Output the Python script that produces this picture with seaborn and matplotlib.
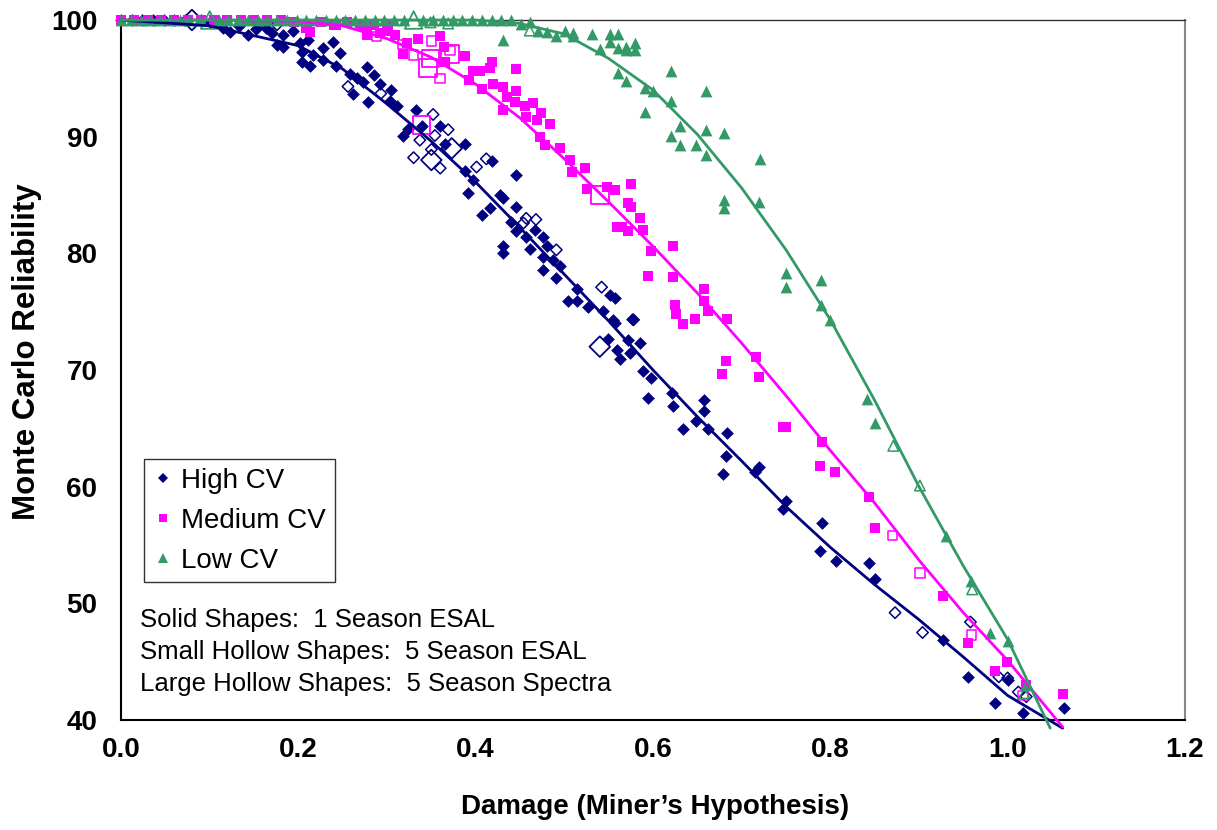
import matplotlib
matplotlib.use("Agg")
import matplotlib.pyplot as plt
from matplotlib.lines import Line2D
from matplotlib.ticker import FormatStrFormatter
import seaborn as sns

# ---------------- data ----------------
NAVY = "#000080"
MAGENTA = "#FF00FF"
GREEN = "#339966"

# High CV, solid (1 season ESAL)
high_solid_x = [0.0, 0.012, 0.024, 0.036, 0.048, 0.06, 0.072, 0.09, 0.10, 0.115, 0.123, 0.133, 0.143, 0.152,
                0.164, 0.170, 0.176, 0.183, 0.183, 0.194, 0.202, 0.211, 0.204, 0.217, 0.204, 0.213, 0.228,
                0.239, 0.228, 0.247, 0.243, 0.277, 0.258, 0.266, 0.273, 0.285, 0.262, 0.279, 0.305, 0.303,
                0.311, 0.292, 0.333, 0.318, 0.324, 0.339, 0.360, 0.365, 0.388, 0.388, 0.397, 0.391, 0.418,
                0.446, 0.427, 0.431, 0.416, 0.407, 0.446, 0.440, 0.446, 0.431, 0.431, 0.457, 0.467, 0.461,
                0.476, 0.480, 0.476, 0.487, 0.476, 0.491, 0.495, 0.514, 0.504, 0.514, 0.527, 0.544, 0.551,
                0.557, 0.555, 0.557, 0.576, 0.549, 0.559, 0.572, 0.574, 0.563, 0.585, 0.589, 0.598, 0.594,
                0.621, 0.622, 0.657, 0.657, 0.648, 0.634, 0.662, 0.683, 0.682, 0.679, 0.715, 0.720, 0.750,
                0.747, 0.791, 0.788, 0.806, 0.844, 0.850, 0.927, 0.955, 0.986, 1.000, 1.017, 1.063]
high_solid_y = [100.0, 100.0, 100.0, 100.0, 100.0, 100.0, 100.0, 100.0, 99.8, 99.3, 99.0, 99.5, 98.7, 99.2,
                99.3, 98.9, 97.9, 98.7, 97.7, 99.1, 98.0, 98.3, 97.3, 97.0, 96.4, 96.1, 96.6,
                98.1, 97.6, 97.2, 96.1, 96.0, 95.4, 95.0, 94.7, 95.3, 93.7, 93.0, 94.0, 93.1,
                92.6, 94.5, 92.3, 90.1, 90.7, 90.9, 90.9, 89.4, 89.4, 87.1, 86.3, 85.2, 87.9,
                86.7, 85.0, 84.7, 83.9, 83.3, 84.0, 82.7, 81.9, 80.6, 80.0, 81.4, 82.0, 80.4,
                81.4, 80.6, 79.7, 79.4, 78.6, 77.9, 78.9, 76.9, 75.9, 75.9, 75.4, 75.1, 76.4,
                76.2, 74.3, 74.0, 74.4, 72.7, 71.7, 72.6, 71.5, 70.9, 72.3, 69.9, 69.3, 67.6,
                68.0, 66.9, 67.4, 66.5, 65.6, 64.9, 64.9, 64.6, 62.6, 61.1, 61.3, 61.7, 58.8,
                58.1, 56.9, 54.5, 53.6, 53.5, 52.1, 46.9, 43.7, 41.5, 43.4, 40.6, 41.0]

# High CV, small hollow (5 season ESAL)
high_small_x = [0.155, 0.176, 0.256, 0.293, 0.352, 0.369, 0.354, 0.337, 0.350, 0.330, 0.360, 0.401, 0.412,
                0.457, 0.468, 0.454, 0.491, 0.542, 0.578, 0.873, 0.904, 0.958, 0.990, 1.000, 1.012, 1.021]
high_small_y = [99.7, 99.6, 94.3, 93.7, 91.9, 90.6, 90.1, 89.7, 88.9, 88.2, 87.3, 87.4, 88.1,
                83.0, 82.9, 82.6, 80.3, 77.1, 74.3, 49.2, 47.5, 48.4, 43.7, 43.6, 42.4, 42.0]

# High CV, large hollow (5 season spectra)
high_large_x = [0.080, 0.350, 0.373, 0.540]
high_large_y = [100.0, 88.0, 89.0, 72.0]

# Medium CV, solid
med_solid_x = [0.0, 0.015, 0.03, 0.045, 0.06, 0.075, 0.09, 0.105, 0.12, 0.135, 0.15, 0.165, 0.18, 0.195,
               0.21, 0.225, 0.24, 0.255, 0.27, 0.285, 0.30, 0.209, 0.213, 0.243, 0.277, 0.277, 0.292, 0.301,
               0.309, 0.322, 0.335, 0.318, 0.360, 0.364, 0.388, 0.365, 0.418, 0.416, 0.446, 0.397, 0.405,
               0.392, 0.407, 0.420, 0.431, 0.445, 0.435, 0.444, 0.456, 0.465, 0.431, 0.457, 0.474, 0.484,
               0.469, 0.473, 0.478, 0.495, 0.506, 0.523, 0.509, 0.525, 0.548, 0.557, 0.575, 0.572, 0.575,
               0.585, 0.559, 0.565, 0.572, 0.589, 0.598, 0.622, 0.594, 0.622, 0.657, 0.657, 0.625, 0.626,
               0.634, 0.647, 0.662, 0.683, 0.682, 0.678, 0.716, 0.720, 0.747, 0.750, 0.791, 0.788, 0.805,
               0.844, 0.850, 0.927, 0.955, 0.986, 0.999, 1.021, 1.062]
med_solid_y = [100.0, 100.0, 100.0, 100.0, 100.0, 100.0, 100.0, 100.0, 100.0, 100.0, 100.0, 100.0, 100.0, 99.8,
               99.6, 99.8, 99.6, 99.8, 99.5, 99.6, 99.5, 99.3, 99.0, 99.6, 98.7, 99.4, 98.9, 99.1,
               98.7, 98.0, 98.4, 97.1, 98.6, 97.7, 96.9, 96.4, 96.4, 95.9, 95.8, 95.6, 95.6,
               94.9, 94.1, 94.5, 94.3, 93.9, 93.4, 93.0, 92.6, 92.9, 92.3, 91.7, 92.0, 91.1,
               91.4, 90.0, 89.3, 89.0, 88.0, 87.3, 87.0, 85.5, 85.7, 85.4, 85.9, 84.3, 84.0,
               83.0, 82.3, 82.3, 81.9, 82.0, 80.2, 80.6, 78.1, 78.0, 76.9, 75.9, 75.6, 74.8,
               73.9, 74.4, 75.1, 74.4, 70.8, 69.7, 71.1, 69.4, 65.1, 65.1, 63.8, 61.8, 61.3,
               59.1, 56.5, 50.6, 46.6, 44.2, 45.0, 43.0, 42.2]

# Medium CV, small hollow
med_small_x = [0.288, 0.318, 0.330, 0.350, 0.360, 0.371, 0.870, 0.901, 0.959, 1.017]
med_small_y = [98.6, 97.9, 97.0, 98.2, 95.0, 97.4, 55.8, 52.6, 47.3, 42.1]

# Medium CV, large hollow
med_large_x = [0.339, 0.346, 0.349, 0.371, 0.540]
med_large_y = [91.0, 95.9, 96.7, 97.1, 85.0]

# Low CV, solid
low_solid_x = [0.0, 0.011, 0.022, 0.033, 0.044, 0.055, 0.066, 0.077, 0.088, 0.110, 0.121, 0.132, 0.143,
               0.154, 0.165, 0.176, 0.187, 0.198, 0.209, 0.220, 0.231, 0.242, 0.253, 0.264, 0.275, 0.286,
               0.297, 0.308, 0.319, 0.341, 0.352, 0.363, 0.374, 0.385, 0.396, 0.407, 0.418, 0.429, 0.440,
               0.451, 0.461, 0.470, 0.480, 0.491, 0.501, 0.510, 0.510, 0.531, 0.540, 0.551, 0.551, 0.560,
               0.560, 0.570, 0.570, 0.580, 0.580, 0.431, 0.560, 0.570, 0.591, 0.600, 0.591, 0.620, 0.620,
               0.630, 0.620, 0.630, 0.649, 0.660, 0.660, 0.660, 0.680, 0.721, 0.680, 0.680, 0.720, 0.750,
               0.750, 0.790, 0.790, 0.800, 0.841, 0.850, 0.931, 0.959, 0.980, 1.000, 1.021]
low_solid_y = [100.0, 100.0, 100.0, 100.0, 100.0, 100.0, 100.0, 100.0, 100.0, 100.0, 100.0, 100.0, 100.0,
               100.0, 100.0, 100.0, 100.0, 100.0, 100.0, 100.0, 100.0, 100.0, 100.0, 100.0, 100.0, 100.0,
               100.0, 100.0, 100.0, 100.0, 100.0, 100.0, 100.0, 100.0, 100.0, 100.0, 100.0, 100.0, 100.0,
               99.7, 99.8, 99.1, 99.0, 98.6, 99.1, 98.9, 98.6, 98.8, 97.5, 98.8, 98.1, 98.8,
               97.6, 97.7, 97.4, 98.0, 97.4, 98.3, 95.5, 94.8, 94.2, 93.9, 92.1, 95.6, 93.1,
               90.9, 90.1, 89.3, 89.3, 93.9, 90.6, 88.4, 90.3, 88.1, 84.6, 83.9, 84.4, 78.3,
               77.1, 77.7, 75.6, 74.3, 67.5, 65.5, 55.8, 51.9, 47.5, 46.8, 43.0]

# Low CV, small hollow
low_small_x = [0.349, 0.369, 0.461, 0.871, 0.901, 0.960, 1.019]
low_small_y = [99.8, 99.7, 99.1, 63.5, 60.1, 51.2, 42.3]

# Low CV, large hollow
low_large_x = [0.100, 0.330]
low_large_y = [100.0, 100.0]

# Trend curves
high_curve_x = [0.0, 0.1, 0.2, 0.25, 0.3, 0.35, 0.4, 0.45, 0.5, 0.55, 0.6, 0.65, 0.7, 0.75, 0.8, 0.85,
                0.9, 0.95, 1.0, 1.062]
high_curve_y = [100.0, 99.5, 97.8, 95.8, 92.8, 89.6, 86.1, 82.2, 78.2, 74.2, 70.0, 66.0, 62.2, 58.3, 54.8,
                51.6, 48.6, 45.4, 42.1, 39.3]
med_curve_x = [0.0, 0.1, 0.2, 0.25, 0.3, 0.35, 0.4, 0.45, 0.5, 0.55, 0.6, 0.65, 0.7, 0.75, 0.8, 0.85,
               0.9, 0.95, 1.0, 1.062]
med_curve_y = [100.0, 100.0, 99.9, 99.5, 98.4, 96.8, 94.5, 91.6, 88.1, 84.4, 80.6, 76.6, 72.3, 67.8, 63.1,
               58.6, 53.7, 49.2, 45.1, 39.4]
low_curve_x = [0.0, 0.3, 0.4, 0.45, 0.5, 0.55, 0.6, 0.65, 0.7, 0.75, 0.8, 0.85, 0.9, 0.95, 1.0, 1.048]
low_curve_y = [100.0, 100.0, 100.0, 99.7, 98.8, 96.7, 94.0, 90.2, 85.6, 80.3, 74.3, 67.4, 60.0, 53.2, 46.9,
               39.3]

x_ticks = [0.0, 0.2, 0.4, 0.6, 0.8, 1.0, 1.2]
y_ticks = [40, 50, 60, 70, 80, 90, 100]
legend_labels = ["High CV", "Medium CV", "Low CV"]
notes = ["Solid Shapes:  1 Season ESAL",
         "Small Hollow Shapes:  5 Season ESAL",
         "Large Hollow Shapes:  5 Season Spectra"]

# ---------------- figure ----------------
sns.set_style("white")
plt.rcParams["font.family"] = ["Liberation Sans", "DejaVu Sans"]
plt.rcParams["text.color"] = "black"
plt.rcParams["axes.labelcolor"] = "black"
plt.rcParams["xtick.color"] = "black"
plt.rcParams["ytick.color"] = "black"

W, H = 1217, 830
fig = plt.figure(figsize=(W / 100, H / 100), dpi=100)
ax = fig.add_axes([121 / W, 110 / H, (1185 - 121) / W, 700 / H])

series = [
    (NAVY, "D", (high_solid_x, high_solid_y), (high_small_x, high_small_y), (high_large_x, high_large_y),
     42, 34, 110),
    (MAGENTA, "s", (med_solid_x, med_solid_y), (med_small_x, med_small_y), (med_large_x, med_large_y),
     60, 48, 160),
    (GREEN, "^", (low_solid_x, low_solid_y), (low_small_x, low_small_y), (low_large_x, low_large_y),
     72, 58, 160),
]

for color, mk, solid, small, large, s_solid, s_small, s_large in series:
    sns.scatterplot(x=solid[0], y=solid[1], marker=mk, color=color, edgecolor=color, s=s_solid,
                    linewidth=0, ax=ax, clip_on=False, zorder=3)
    sns.scatterplot(x=small[0], y=small[1], marker=mk, color=color, facecolor="none", edgecolor=color,
                    s=s_small, linewidth=1.1, ax=ax, clip_on=False, zorder=3)
    sns.scatterplot(x=large[0], y=large[1], marker=mk, color=color, facecolor="none", edgecolor=color,
                    s=s_large, linewidth=1.3, ax=ax, clip_on=False, zorder=3)

for cx, cy, color in [(high_curve_x, high_curve_y, NAVY), (med_curve_x, med_curve_y, MAGENTA),
                      (low_curve_x, low_curve_y, GREEN)]:
    sns.lineplot(x=cx, y=cy, color=color, linewidth=2.0, sort=False, estimator=None, ax=ax,
                 clip_on=False, zorder=4)

ax.set_xlim(0, 1.2)
ax.set_ylim(40, 100)
ax.set_xticks(x_ticks)
ax.set_yticks(y_ticks)
ax.xaxis.set_major_formatter(FormatStrFormatter("%.1f"))
ax.tick_params(axis="both", direction="out", length=7, width=1.2, colors="black", labelsize=20)
ax.tick_params(axis="x", pad=5)
ax.tick_params(axis="y", pad=10)
for lab in ax.get_xticklabels() + ax.get_yticklabels():
    lab.set_fontweight("bold")

for side in ["left", "bottom"]:
    ax.spines[side].set_color("black")
    ax.spines[side].set_linewidth(1.5)
ax.spines["top"].set_color("#333333")
ax.spines["top"].set_linewidth(1.0)
ax.spines["right"].set_color("#888888")
ax.spines["right"].set_linewidth(1.5)

ax.set_xlabel("Damage (Miner\u2019s Hypothesis)", fontsize=20, fontweight="bold")
ax.set_ylabel("Monte Carlo Reliability", fontsize=22.5, fontweight="bold")
ax.xaxis.set_label_coords(0.502, -0.106)
ax.yaxis.set_label_coords(-0.074, 0.526)

handles = [
    Line2D([], [], marker="D", color=NAVY, linestyle="None", markersize=5, markeredgewidth=0),
    Line2D([], [], marker="s", color=MAGENTA, linestyle="None", markersize=6, markeredgewidth=0),
    Line2D([], [], marker="^", color=GREEN, linestyle="None", markersize=7, markeredgewidth=0),
]
leg = ax.legend(handles=handles, labels=legend_labels, loc="upper left",
                bbox_to_anchor=(0.0216, 0.373), fontsize=20, frameon=True, fancybox=False,
                edgecolor="black", borderpad=0.32, labelspacing=0.5, handlelength=0.72,
                handletextpad=0.29, borderaxespad=0.0)
leg.get_frame().set_linewidth(1.0)

for txt, yb in zip(notes, [0.133, 0.087, 0.041]):
    ax.text(0.018, yb, txt, transform=ax.transAxes, fontsize=18.5, va="baseline", ha="left",
            color="black")

fig.savefig("out.png", dpi=100, facecolor="white")
